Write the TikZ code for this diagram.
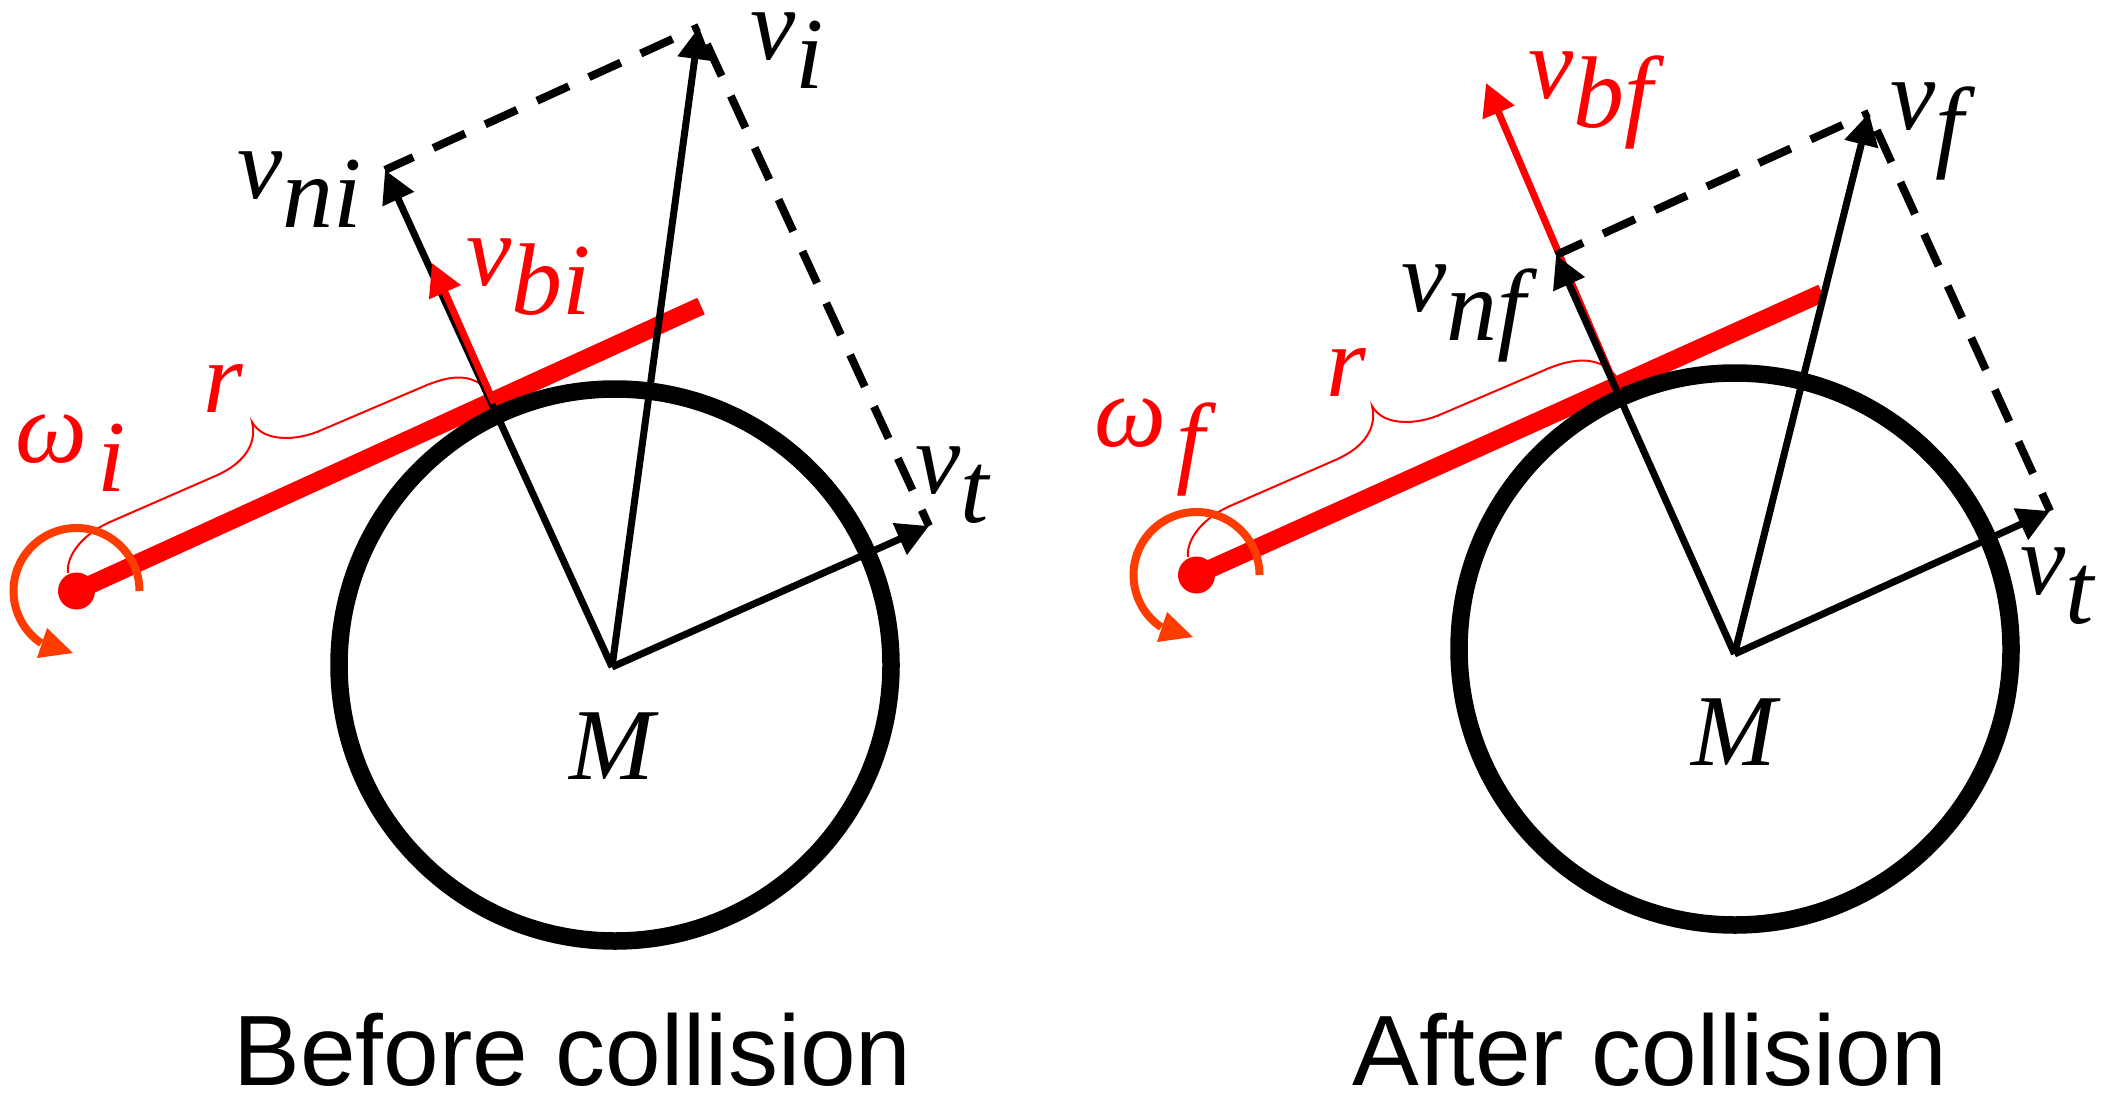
\documentclass[tikz,border=0pt]{standalone}
\usepackage{fontspec}
\setmainfont{Liberation Serif}
\newfontfamily\captionfont{Liberation Sans}
\usetikzlibrary{arrows.meta}

\newcommand{\velo}[2]{\textit{#1}\raisebox{-0.29cm}{\textit{#2}}}

\begin{document}
\begin{tikzpicture}[font=\fontsize{29}{34}\selectfont]

        % Styles
        \tikzstyle{rod} = [draw=red, line width=0.18cm]
        \tikzstyle{pivot} = [fill=red]
        \tikzstyle{disk} = [draw=black, line width=0.175cm]
        \tikzstyle{comp} = [draw=black, line width=0.07cm, -{Triangle[length=0.32cm,width=0.33cm]}]
        \tikzstyle{bvel} = [draw=red, line width=0.07cm, -{Triangle[length=0.32cm,width=0.33cm]}]
        \tikzstyle{guide} = [draw=black, line width=0.08cm, dash pattern=on 0.35cm off 0.22cm]
        \tikzstyle{brace} = [draw=red, line width=0.02cm]
        \tikzstyle{spin} = [draw=spincol, line width=0.08cm]
        \tikzstyle{lab} = [inner sep=0pt, anchor=base west]
        \tikzstyle{title} = [inner sep=0pt, anchor=base west, font=\captionfont\fontsize{28.45}{34}\selectfont]
        \definecolor{spincol}{RGB}{255,60,0}

        \useasboundingbox (0,0) rectangle (21.05,11.02);

        % --- LEFT: BEFORE COLLISION ---
        \begin{scope}[shift={(0,0)}]
            \coordinate (pL) at (0.765,5.11);
            \coordinate (eL) at (7.01,7.96);
            \coordinate (oL) at (6.12,4.35);
            \coordinate (iL) at (6.99,10.75);
            \coordinate (nL) at (3.85,9.32);
            \coordinate (tL) at (9.29,5.76);
            \coordinate (bL) at (4.32,8.39);
            \coordinate (sL) at (4.94,6.99);

            % Rod and pivot
            \draw[rod] (pL) -- (eL);
            \fill[pivot] (pL) circle (0.185);

            % Disk
            \draw[disk] (6.15,4.37) circle (2.76);

            % Brace for r
            \draw[brace] (0.68,5.29) .. controls (0.66,5.48) and (0.85,5.69) .. (1.10,5.80) -- (2.13,6.25)
                .. controls (2.40,6.36) and (2.58,6.55) .. (2.52,6.80)
                .. controls (2.62,6.62) and (2.90,6.60) .. (3.17,6.70) -- (4.27,7.17)
                .. controls (4.52,7.27) and (4.68,7.27) .. (4.82,7.17);

            % Spin arrow
            \draw[spin] (pL) ++(0.63,0) arc[start angle=0, end angle=236, radius=0.63];
            \fill[spincol] (0.73,4.49) -- (0.37,4.44) -- (0.47,4.74) -- cycle;

            % Velocity components
            \draw[guide, dash phase=0.28cm] (iL) -- (nL);
            \draw[guide, dash phase=0.38cm] (iL) -- (tL);
            \draw[comp] (oL) -- (iL);
            \draw[comp] (oL) -- (tL);
            \draw[comp] (oL) -- (nL);
            \draw[bvel] (sL) -- (bL);

            % Labels
            \node[lab] (viL) at (7.50,10.42) {\velo{v}{i}};
            \node[lab] (vnL) at (2.37,9.03) {\velo{v}{ni}};
            \node[lab, text=red] (vbL) at (4.66,8.16) {\velo{v}{bi}};
            \node[lab] (vtL) at (9.15,6.09) {\velo{v}{t}};
            \node[lab, text=red] (rL) at (2.03,6.90) {\textit{r}};
            \node[lab, text=red] (wL) at (0.15,6.40) {\velo{ω\kern0.1cm}{i}};
            \node[inner sep=0pt, anchor=base] (mL) at (6.14,3.23) {\textit{M}};
            \node[title] (capL) at (2.33,0.17) {Before collision};
        \end{scope}

        % --- RIGHT: AFTER COLLISION ---
        \begin{scope}[shift={(11.2,0.16)}]
            \coordinate (pR) at (0.765,5.11);
            \coordinate (eR) at (7.02,7.93);
            \coordinate (oR) at (6.145,4.32);
            \coordinate (iR) at (7.49,9.73);
            \coordinate (nR) at (4.36,8.31);
            \coordinate (tR) at (9.30,5.75);
            \coordinate (bR) at (3.66,10.03);
            \coordinate (sR) at (4.98,6.94);

            % Rod and pivot
            \draw[rod] (pR) -- (eR);
            \fill[pivot] (pR) circle (0.185);

            % Disk
            \draw[disk] (6.15,4.37) circle (2.76);

            % Brace for r
            \draw[brace] (0.68,5.29) .. controls (0.66,5.48) and (0.85,5.69) .. (1.10,5.80) -- (2.13,6.25)
                .. controls (2.40,6.36) and (2.58,6.55) .. (2.52,6.80)
                .. controls (2.62,6.62) and (2.90,6.60) .. (3.17,6.70) -- (4.27,7.17)
                .. controls (4.55,7.29) and (4.82,7.30) .. (4.97,7.08);

            % Spin arrow
            \draw[spin] (pR) ++(0.63,0) arc[start angle=0, end angle=236, radius=0.63];
            \fill[spincol] (0.73,4.49) -- (0.37,4.44) -- (0.47,4.74) -- cycle;

            % Velocity components
            \draw[bvel] (sR) -- (bR);
            \draw[guide, dash phase=0.28cm] (iR) -- (nR);
            \draw[guide, dash phase=0.38cm] (iR) -- (tR);
            \draw[comp] (oR) -- (iR);
            \draw[comp] (oR) -- (tR);
            \draw[comp] (oR) -- (nR);

            % Labels
            \node[lab] (viR) at (7.70,9.56) {\velo{v}{f}};
            \node[lab] (vnR) at (2.81,7.74) {\velo{v}{nf}};
            \node[lab, text=red] (vbR) at (4.08,9.87) {\velo{v}{bf}};
            \node[lab] (vtR) at (9.00,4.92) {\velo{v}{t}};
            \node[lab, text=red] (rR) at (2.06,6.90) {\textit{r}};
            \node[lab, text=red] (wR) at (-0.26,6.40) {\velo{ω\kern0.1cm}{f}};
            \node[inner sep=0pt, anchor=base] (mR) at (6.16,3.21) {\textit{M}};
            \node[title] (capR) at (2.32,0.01) {After collision};
        \end{scope}

    \end{tikzpicture}
\end{document}
